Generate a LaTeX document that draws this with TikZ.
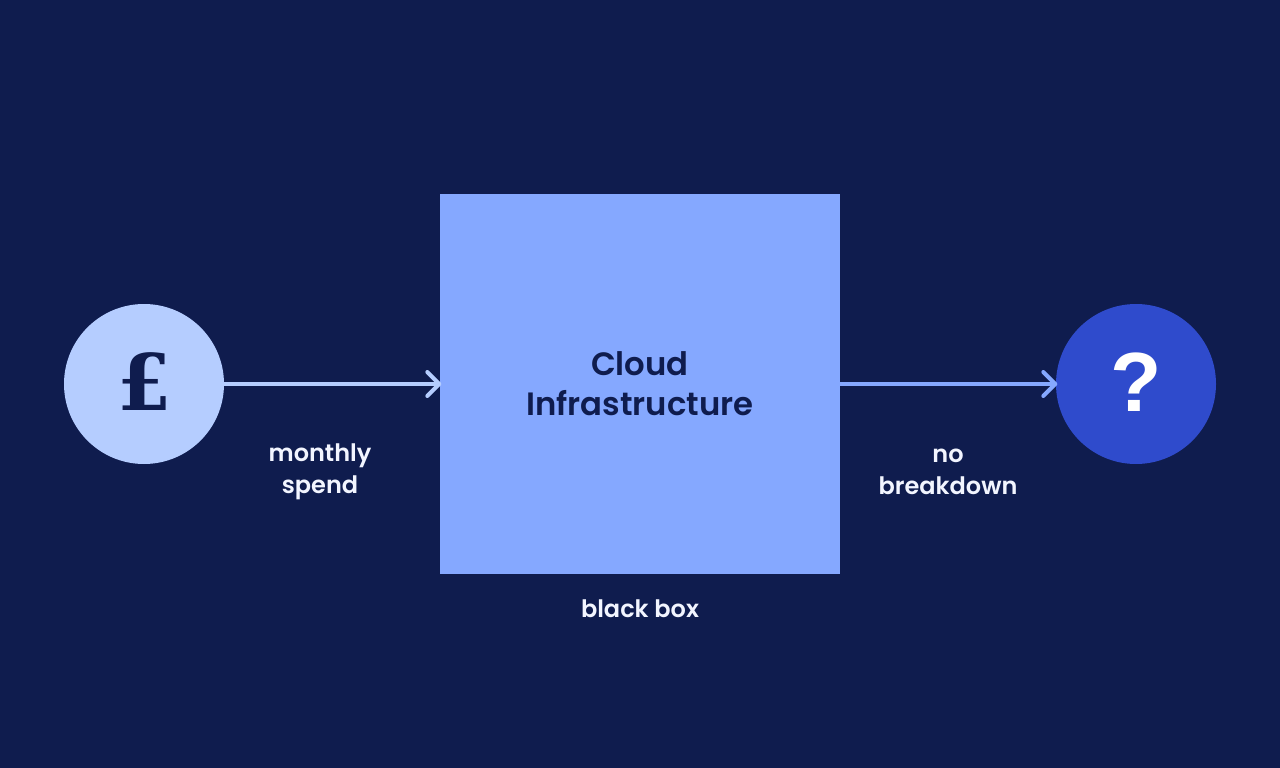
\documentclass[tikz,border=0pt]{standalone}
\usepackage{fontspec}
\setmainfont{Poppins}[UprightFont=* Medium,BoldFont=* SemiBold]
\newfontfamily\symfont{DejaVu Serif}
\newfontfamily\qfont{Liberation Sans}
\usetikzlibrary{arrows.meta}
\definecolor{bgnavy}{HTML}{0F1C4E}
\definecolor{boxblue}{HTML}{85A8FF}
\definecolor{paleblue}{HTML}{B5CDFF}
\definecolor{deepblue}{HTML}{2F4BCC}
\definecolor{labelwhite}{HTML}{F2F5FF}
\tikzset{
  x=1pt,y=-1pt,
  disc/.style={circle,inner sep=0pt,minimum size=160pt},
  lbl/.style={text=labelwhite,align=center,font=\fontsize{24}{32}\selectfont\bfseries},
  conn/.style={line width=4pt,-{Straight Barb[length=12pt,width=24pt,line width=4pt,round]},shorten >=-1.5pt},
}
\begin{document}
\begin{tikzpicture}
\useasboundingbox (0,0) rectangle (1280,768);
\fill[bgnavy] (0,0) rectangle (1280,768);
\node[fill=boxblue,minimum width=400pt,minimum height=380pt,inner sep=0pt] (box) at (640,384) {};
\node[disc,fill=paleblue] (pound) at (144,384) {};
\node[disc,fill=deepblue] (quest) at (1136,384) {};
\node[text=bgnavy,font=\fontsize{78}{78}\selectfont\symfont\bfseries] (poundsign) at (144.5,382) {£};
\node[text=white,font=\fontsize{84}{84}\selectfont\qfont\bfseries] (questsign) at (1136,382) {?};
\node[text=bgnavy,align=center,font=\fontsize{32.3}{40}\selectfont\bfseries] (title) at (640,384) {Cloud\\Infrastructure};
\draw[conn,paleblue] (pound.east) -- (box.west);
\draw[conn,boxblue] (box.east) -- (quest.west);
\node[lbl] (l1) at (320,472) {monthly\\spend};
\node[lbl] (l2) at (948,472) {no\\breakdown};
\node[lbl] (l3) at (640,609) {black box};
\end{tikzpicture}
\end{document}
